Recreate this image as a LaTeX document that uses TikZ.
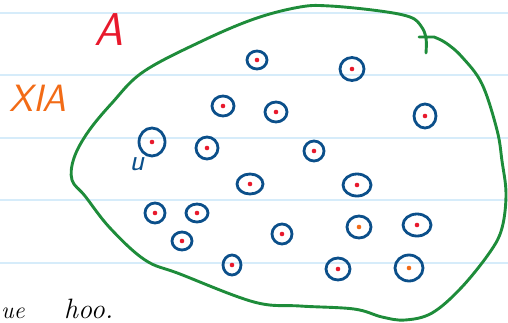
\documentclass[tikz,border=0pt]{standalone}
\usepackage{fontspec}
\usetikzlibrary{shapes.geometric}
\definecolor{nbline}{HTML}{D6ECFA}
\definecolor{nbgreen}{HTML}{1E8C3A}
\definecolor{nbblue}{HTML}{0B4F8A}
\definecolor{nbred}{HTML}{E8192C}
\definecolor{nborange}{HTML}{F26B16}
\tikzset{
  ring/.style={draw=nbblue,line width=2.8pt,ellipse,inner sep=0pt},
  dot/.style={fill=#1,circle,inner sep=0pt,minimum size=4.6pt},
  hand/.style={font=\sffamily\itshape,inner sep=0pt},
}
\begin{document}
\begin{tikzpicture}[x=1pt,y=-1pt]
  \useasboundingbox (0,0) rectangle (508,322);
  % ruled paper
  \foreach \y in {13,75,138,200,263}
    \draw[nbline,line width=1.5pt] (0,\y) -- (508,\y);
  % the set
  \draw[nbgreen,line width=2.9pt,line cap=round,line join=round]
    plot[smooth,tension=0.6] coordinates {(426,53) (426,38) (421,26) (410,17)
      (380,11) (330,6) (300,7) (254,19) (200,42) (143,72) (112,103) (88,132)
      (74,158) (72,180) (85,196) (110,228) (145,260) (180,274) (254,302)
      (300,306) (354,309) (382,317) (405,320) (432,313) (461,288) (490,252)
      (502,228) (506,194) (502,161) (497,130) (482,84) (462,57) (446,43)
      (434,37)} -- (419,37);
  % elements
  \foreach \x/\y/\w/\h/\c [count=\i] in {
      257/60/20/18/nbred, 352/69/24/23/nbred, 223/106/22/20/nbred,
      276/112/22/20/nbred, 425/116/22/24/nbred, 152/142/26/28/nbred,
      207/148/22/22/nbred, 314/151/20/20/nbred, 250/184/26/20/nbred,
      357/185/28/22/nbred, 155/213/20/20/nbred, 197/213/22/18/nbred,
      182/241/20/18/nbred, 232/265/18/20/nbred, 282/234/20/20/nbred,
      359/227/24/22/nborange, 417/225/28/22/nbred, 338/269/24/22/nbred,
      409/268/28/26/nborange} {
    \node[ring,minimum width=\w pt,minimum height=\h pt] (c\i) at (\x,\y) {};
    \node[dot=\c] (d\i) at (c\i) {};
  }
  % labels
  \node[hand,text=nbred,font=\fontsize{46}{46}\selectfont\sffamily\itshape] (lA) at (109,30) {A};
  \node[hand,text=nborange,font=\fontsize{38}{38}\selectfont\sffamily\itshape] (lXIA) at (38,98) {XIA};
  \node[hand,text=nbblue,font=\fontsize{30}{30}\selectfont\sffamily\itshape] (lu) at (137,164) {u};
  \node[hand,font=\fontsize{24}{24}\selectfont\itshape,anchor=base west] (lue) at (1,318) {ue};
  \node[hand,font=\fontsize{28}{28}\selectfont\itshape,anchor=base west] (lhoo) at (64,318) {hoo.};
\end{tikzpicture}
\end{document}
